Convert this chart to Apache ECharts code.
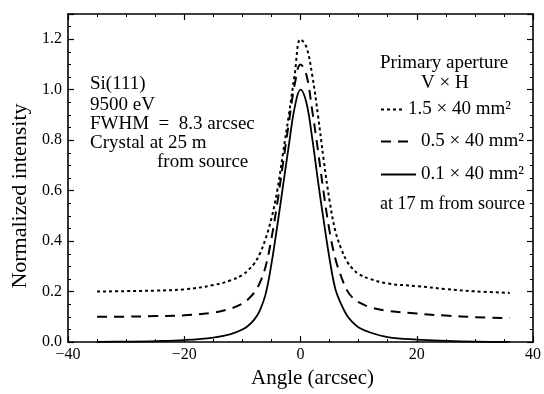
<!DOCTYPE html>
<html>
<head>
<meta charset="utf-8">
<script src="https://cdn.jsdelivr.net/npm/echarts@6/dist/echarts.min.js"></script>
<style>
  html, body { margin:0; padding:0; background:#fff; }
  #chart { width:544px; height:394px; }
</style>
</head>
<body>
<div id="chart"></div>
<script>
// angle in arcsec, intensities
const angles = [-35,-30,-25,-20,-15,-12,-10,-9,-8,-7,-6,-5,-4,-3,-2,-1,0,1,2,3,4,5,6,7,8,9,10,12,15,20,25,30,36];
const dotted15 = [0.2,0.202,0.204,0.209,0.226,0.245,0.266,0.285,0.31,0.35,0.41,0.49,0.6,0.75,0.9,1.06,1.2,1.17,1.06,0.9,0.72,0.56,0.44,0.37,0.32,0.29,0.27,0.25,0.232,0.222,0.21,0.201,0.195];
const dashed05 = [0.1,0.101,0.103,0.106,0.117,0.133,0.152,0.17,0.195,0.235,0.3,0.41,0.55,0.71,0.87,1.02,1.1,1.06,0.92,0.76,0.59,0.44,0.33,0.26,0.205,0.175,0.158,0.138,0.124,0.113,0.105,0.099,0.095];
const solid01 = [0.001,0.002,0.004,0.008,0.018,0.032,0.05,0.065,0.088,0.125,0.19,0.31,0.46,0.62,0.78,0.93,1.0,0.95,0.81,0.64,0.48,0.33,0.21,0.15,0.105,0.078,0.058,0.038,0.02,0.01,0.005,0.002,0.001];
const seriesNames = ['1.5 × 40 mm²', '0.5 × 40 mm²', '0.1 × 40 mm²'];
const xTicks = [-40, -20, 0, 20, 40];
const yTicks = [0, 0.2, 0.4, 0.6, 0.8, 1.0, 1.2];

const font = '"Liberation Serif", "DejaVu Serif", serif';
const ink = '#000';

function pairs(ys){
    return angles.map((a, i) => [a, ys[i]]);
}

function axisBase(){
    return {
        type:'value',
        axisLine:{ show:true, onZero:false, lineStyle:{ color:ink, width:1.6 } },
        axisTick:{ show:true, inside:true, length:6, lineStyle:{ color:ink, width:1.2 } },
        minorTick:{ show:true, splitNumber:4, length:3, lineStyle:{ color:ink, width:1 } },
        splitLine:{ show:false },
        minorSplitLine:{ show:false }
    };
}

let dom = document.getElementById('chart');
let myChart = echarts.init(dom, null, { renderer:'canvas' });

const xBottom = Object.assign(axisBase(), {
    position:'bottom', min:-40, max:40, interval:20,
    name:'Angle (arcsec)', nameLocation:'middle', nameGap:19,
    nameTextStyle:{ fontFamily:font, fontSize:21, color:ink, padding:[0,0,0,24] },
    axisLabel:{
        fontFamily:font, fontSize:16, color:ink, margin:5,
        formatter: v => xTicks.includes(v) ? String(v).replace('-', '\u2212') : ''
    }
});
const xTop = Object.assign(axisBase(), {
    position:'top', min:-40, max:40, interval:20, axisLabel:{ show:false }
});
const yLeft = Object.assign(axisBase(), {
    position:'left', min:0, max:1.3, interval:0.2,
    name:'Normalized intensity', nameLocation:'middle', nameGap:35,
    nameTextStyle:{ fontFamily:font, fontSize:22, color:ink, padding:[0,36,0,0] },
    axisLabel:{
        fontFamily:font, fontSize:16, color:ink, margin:6,
        formatter: v => yTicks.some(t => Math.abs(t - v) < 1e-6) ? v.toFixed(1) : ''
    }
});
const yRight = Object.assign(axisBase(), {
    position:'right', min:0, max:1.3, interval:0.2, axisLabel:{ show:false }
});

function legendFor(name, top, width, gap){
    return {
        data:[name], left:380, top:top, orient:'vertical',
        itemWidth:width, itemHeight:10, itemGap:0, padding:0,
        itemStyle:{ opacity:0 },
        textStyle:{ fontFamily:font, fontSize:19, color:ink, padding:[0,0,0,gap] },
        selectedMode:false
    };
}

function note(txt, x, y, size){
    return { type:'text', left:x, top:y,
        style:{ text:txt, fontFamily:font, fontSize:size || 19, fill:ink } };
}

let option = {
    backgroundColor:'#fff',
    animation:false,
    grid:{ left:68, right:4, top:14, bottom:42, containLabel:false },
    xAxis:[xBottom, xTop],
    yAxis:[yLeft, yRight],
    legend:[
        legendFor(seriesNames[0], 100, 22, 0),
        legendFor(seriesNames[1], 132, 30, 5),
        legendFor(seriesNames[2], 165, 35, 0)
    ],
    graphic:[
        note('Si(111)', 90, 75),
        note('9500 eV', 90, 96),
        note('FWHM\u2002=\u20028.3 arcsec', 90, 115),
        note('Crystal at 25 m', 90, 134),
        note('from source', 157, 153),
        note('Primary aperture', 380, 54),
        note('V × H', 421, 74),
        note('at 17 m from source', 380, 195, 18)
    ],
    series:[
        {
            name:seriesNames[0], type:'line', data:pairs(dotted15),
            smooth:0.4, symbol:'none', xAxisIndex:0, yAxisIndex:0,
            lineStyle:{ color:ink, width:2, type:[3,3] }, itemStyle:{ color:ink }
        },
        {
            name:seriesNames[1], type:'line', data:pairs(dashed05),
            smooth:0.4, symbol:'none', xAxisIndex:0, yAxisIndex:0,
            lineStyle:{ color:ink, width:2, type:[10,7] }, itemStyle:{ color:ink }
        },
        {
            name:seriesNames[2], type:'line', data:pairs(solid01),
            smooth:0.4, symbol:'none', xAxisIndex:0, yAxisIndex:0,
            lineStyle:{ color:ink, width:1.8 }, itemStyle:{ color:ink }
        }
    ]
};
myChart.setOption(option);
</script>
</body>
</html>
